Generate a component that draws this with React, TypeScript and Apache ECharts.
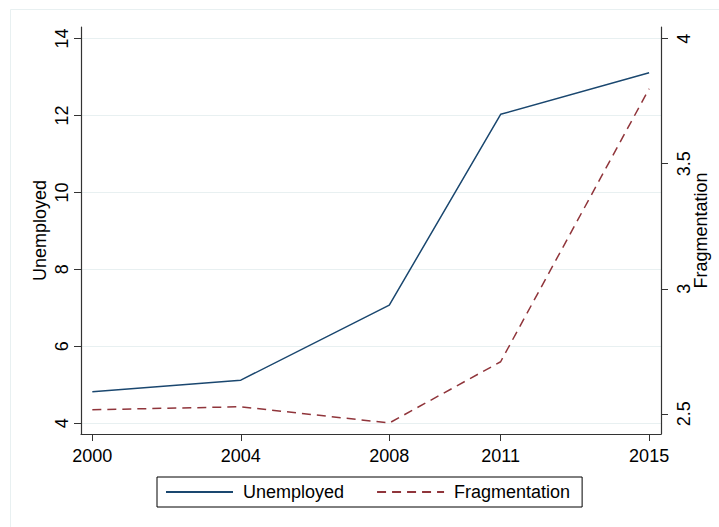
import React, { useEffect, useRef } from "react";
import * as echarts from "echarts";

const years = [2000, 2004, 2008, 2011, 2015];
const unemployed = [4.82, 5.12, 7.07, 12.03, 13.11];
const fragmentation = [2.516, 2.528, 2.463, 2.708, 3.80];
const xTicks = [2000, 2004, 2008, 2011, 2015];
const leftTicks = [4, 6, 8, 10, 12, 14];
const rightTicks = [2.5, 3, 3.5, 4];

const FONT = "'Liberation Sans', Arial, sans-serif";
const AXIS_COLOR = "#333333";

export default function App() {
  const ref = useRef<HTMLDivElement>(null);
  useEffect(() => {
    if (!ref.current) return;
    const chart = echarts.init(ref.current, null, { renderer: "svg" });
    chart.setOption({
      animation: false,
      backgroundColor: "#ffffff",
      textStyle: { fontFamily: FONT },
      graphic: [
        {
          type: "rect",
          shape: { x: 10.5, y: 9.5, width: 760, height: 560 },
          style: { fill: "none", stroke: "#e8f0f1", lineWidth: 1 },
          silent: true,
        },
      ],
      grid: { left: 81, top: 27, right: 58, bottom: 93, containLabel: false, outerBoundsMode: "none" },
      legend: {
        left: 157,
        top: 477,
        orient: "horizontal",
        borderColor: "#000",
        borderWidth: 1,
        padding: [6, 12, 6, 8],
        itemWidth: 67,
        itemHeight: 20,
        itemGap: 32,
        itemStyle: { opacity: 0 },
        textStyle: { fontSize: 18, color: "#000", fontFamily: FONT, padding: [0, 0, 0, 5] },
        data: ["Unemployed", "Fragmentation"],
      },
      xAxis: {
        type: "value",
        min: 1999.695,
        max: 2015.32,
        axisLine: { show: true, lineStyle: { color: AXIS_COLOR, width: 1.2 } },
        axisTick: { show: true, length: 7, customValues: xTicks, lineStyle: { color: AXIS_COLOR } },
        axisLabel: {
          customValues: xTicks,
          fontSize: 18,
          color: "#000",
          margin: 13,
          fontFamily: FONT,
          formatter: (v: number) => String(v),
        },
        splitLine: { show: false },
      },
      yAxis: [
        {
          type: "value",
          position: "left",
          min: 3.72,
          max: 14.3,
          name: "Unemployed",
          nameLocation: "middle",
          nameRotate: 90,
          nameGap: 32,
          nameMoveOverlap: false,
          nameTextStyle: { fontSize: 18, color: "#000", fontFamily: FONT },
          axisLine: { show: true, lineStyle: { color: AXIS_COLOR, width: 1.2 } },
          axisTick: { show: true, length: 7, customValues: leftTicks, lineStyle: { color: AXIS_COLOR } },
          axisLabel: { customValues: leftTicks, fontSize: 18, color: "#000", rotate: 90, margin: 10, fontFamily: FONT },
          splitLine: { show: true, lineStyle: { color: "#e8f0f1", width: 1 } },
        },
        {
          type: "value",
          position: "right",
          min: 2.419,
          max: 4.047,
          name: "Fragmentation",
          nameLocation: "middle",
          nameRotate: 90,
          nameGap: 31,
          nameMoveOverlap: false,
          nameTextStyle: { fontSize: 18, color: "#000", fontFamily: FONT },
          axisLine: { show: true, lineStyle: { color: AXIS_COLOR, width: 1.2 } },
          axisTick: { show: true, length: 7, customValues: rightTicks, lineStyle: { color: AXIS_COLOR } },
          axisLabel: { customValues: rightTicks, fontSize: 18, color: "#000", rotate: 90, margin: 14, fontFamily: FONT },
          splitLine: { show: false },
        },
      ],
      series: [
        {
          name: "Unemployed",
          type: "line",
          yAxisIndex: 0,
          symbol: "none",
          data: years.map((y, i) => [y, unemployed[i]]),
          lineStyle: { color: "#1a476f", width: 1.5 },
          itemStyle: { color: "#1a476f" },
        },
        {
          name: "Fragmentation",
          type: "line",
          yAxisIndex: 1,
          symbol: "none",
          data: years.map((y, i) => [y, fragmentation[i]]),
          lineStyle: { color: "#90353b", width: 1.5, type: [9, 6] },
          itemStyle: { color: "#90353b" },
        },
      ],
    });
    return () => chart.dispose();
  }, []);
  return (
    <div
      ref={ref}
      style={{ position: "fixed", left: 0, top: 0, width: 719, height: 527 }}
    />
  );
}
